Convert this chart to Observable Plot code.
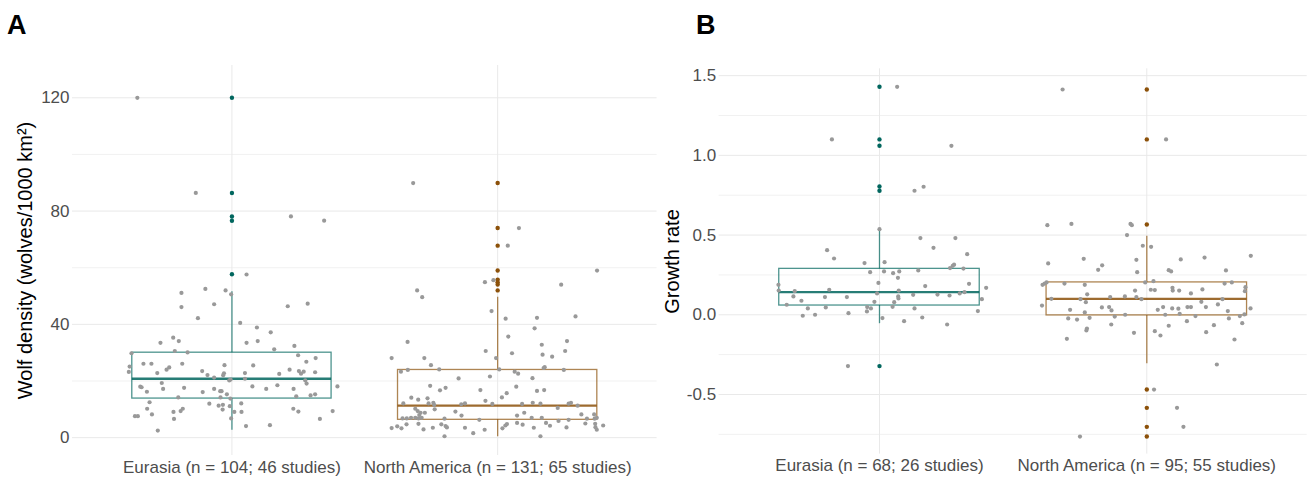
<!DOCTYPE html>
<html><head><meta charset="utf-8">
<script src="https://cdn.jsdelivr.net/npm/d3@7"></script>
<script src="https://cdn.jsdelivr.net/npm/@observablehq/plot@0.6"></script>
<style>
body{margin:0;background:#fff;}
#wrap{position:relative;width:1311px;height:478px;overflow:hidden;font-family:"Liberation Sans",Arial,sans-serif;background:#fff;}
.tag{position:absolute;font-weight:bold;font-size:27px;line-height:27px;color:#000;}
</style></head><body><div id="wrap"></div>
<script>
// ---------- data ----------
const regions = ["Eurasia", "North America"];
const colors = ["#01665E", "#8C510A"];
const tickLabelsA = ["Eurasia (n = 104; 46 studies)", "North America (n = 131; 65 studies)"];
const tickLabelsB = ["Eurasia (n = 68; 26 studies)", "North America (n = 95; 55 studies)"];
const yTitleA = "Wolf density (wolves/1000 km²)";
const yTitleB = "Growth rate";
const yTicksA = [0, 40, 80, 120];
const yMinorA = [20, 60, 100];
const yTicksB = [-0.5, 0, 0.5, 1.0, 1.5];
const yMinorB = [-0.75, -0.25, 0.25, 0.75, 1.25];

// box stats: [lower whisker, q1, median, q3, upper whisker]
const boxA_eu = [2.6, 13.8, 20.8, 30.0, 51.5];
const boxA_na = [0.3, 6.3, 11.3, 23.9, 49.6];
const boxB_eu = [-0.056, 0.058, 0.142, 0.288, 0.537];
const boxB_na = [-0.308, -0.004, 0.1, 0.203, 0.493];

// outliers (drawn at the category centre)
const outA_eu = [120, 86.4, 78.1, 76.6, 57.7];
const outA_na = [89.9, 74.0, 67.8, 59.0, 55.8, 54.9, 54.1, 52.0];
const outB_eu = [1.43, 1.10, 1.06, 0.805, 0.778, -0.322];
const outB_na = [1.413, 1.10, 0.566, -0.469, -0.584, -0.703, -0.764];

// jittered observations: [horizontal jitter (category units), value]
const jitA_eu = [[-0.356,120],[-0.136,86.4],[0.222,78.1],[0.347,76.6],
[0.055,57.6],[-0.19,51.1],[-0.10,52.5],[-0.024,52.0],[-0.003,50.6],[-0.19,46.1],[-0.067,47.1],[0.21,46.4],[0.285,47.3],[-0.128,42.2],[0.031,40.5],[0.094,38.9],[0.146,37.2],[0.097,34.1],[0.055,33.5],[-0.221,35.3],[-0.20,34.1],[-0.269,33.5],[0.235,32.4],[0.159,31.2],[-0.215,30.6],[-0.167,30.1],[-0.378,29.8],[0.249,29.1],[0.315,28.1],[0.28,26.8],[-0.333,26.1],[-0.303,26.1],[-0.187,26.1],[-0.385,25.1],[-0.236,24.8],[-0.246,24.0],[-0.028,25.6],[0.08,25.5],[-0.388,23.2],[-0.281,22.8],[-0.112,23.5],[-0.092,22.1],[-0.033,22.0],[-0.03,22.7],[0.049,22.8],[0.178,22.5],[0.217,24.0],[0.252,23.5],[0.27,23.3],[0.313,23.1],[0.397,18.1],[0.276,20.2],[0.281,19.1],[-0.01,20.2],[-0.067,21.2],[0.049,20.8],[-0.264,19.3],[-0.345,18.0],[-0.34,17.8],[-0.259,17.2],[-0.18,17.6],[0.077,18.1],[0.129,17.2],[0.171,18.5],[0.232,17.2],[-0.32,16.2],[-0.11,16.1],[-0.067,17.2],[-0.044,16.4],[-0.039,16.4],[-0.202,14.2],[-0.043,14.2],[-0.006,13.8],[0.242,14.6],[0.296,14.9],[0.313,15.3],[-0.085,12.0],[-0.05,11.3],[-0.034,11.6],[-0.008,11.1],[0.035,12.1],[-0.31,12.5],[-0.319,10.2],[-0.185,10.2],[-0.193,9.4],[-0.22,9.1],[-0.301,8.2],[-0.035,9.9],[0.231,10.2],[0.25,9.2],[0.379,9.4],[0.009,9.1],[0.036,9.1],[-0.365,7.6],[-0.354,7.6],[-0.218,6.6],[-0.003,6.8],[0.331,6.6],[0.053,4.1],[0.143,4.4],[-0.279,2.5],[-0.005,20.5],[-0.019,15.3],[0.26,22.6]];

const jitA_na = [[-0.318,89.9],[0.08,74.0],[0.038,67.8],[0.374,59.0],[-0.048,54.9],[-0.016,55.6],[0.239,54.0],[-0.303,52.0],[-0.284,49.6],[-0.023,44.7],[0.03,42.0],[0.148,42.3],[0.293,42.8],[0.139,38.6],
[0.04,35.7],[-0.339,33.8],[0.166,32.8],[0.261,34.1],[0.254,30.6],[0.169,29.3],[0.205,28.6],[0.054,29.8],[-0.045,30.6],[-0.399,28.1],[-0.276,28.1],[-0.006,28.1],[-0.251,25.6],[0.177,24.9],[0.173,24.6],[0.249,23.9],[-0.364,23.3],[-0.338,23.9],[-0.22,24.1],[0.006,24.1],[0.064,23.3],[0.077,22.6],[-0.029,21.6],[-0.147,20.9],[0.131,21.0],[-0.254,18.3],[-0.196,17.6],[-0.217,16.7],[-0.065,16.8],[0.07,18.0],[0.148,16.5],[0.175,16.8],[0.034,15.7],[0.016,14.2],[-0.325,14.1],[-0.299,13.4],[-0.264,13.9],[-0.046,13.0],[-0.355,12.1],[-0.26,12.1],[-0.242,12.3],[-0.239,11.6],[-0.123,12.1],[-0.137,11.8],[-0.02,11.9],[0.092,11.9],[0.132,12.3],[0.161,12.0],[0.226,10.5],[0.267,12.0],[0.276,12.3],[0.301,11.3],[-0.31,10.2],[-0.301,9.4],[-0.29,8.8],[-0.295,8.0],[-0.274,8.8],[-0.237,10.0],[-0.159,9.2],[-0.136,7.8],[0.1,8.8],[0.073,7.8],[0.315,8.2],[0.363,8.2],[-0.358,6.8],[-0.342,6.8],[-0.326,7.0],[-0.31,7.0],[-0.298,6.8],[-0.286,7.0],[-0.2,6.7],[-0.069,6.3],[0.128,7.0],[0.166,7.0],[0.229,5.9],[0.267,6.3],[0.336,6.7],[0.365,6.7],[0.373,7.0],[-0.399,3.4],[-0.378,4.0],[-0.362,3.3],[-0.343,4.7],[-0.298,4.9],[-0.212,4.7],[-0.196,4.1],[-0.191,3.6],[-0.279,2.9],[-0.244,3.5],[-0.123,3.5],[-0.049,2.8],[-0.092,1.6],[-0.2,0.5],[0.018,3.3],[0.029,4.3],[0.035,4.8],[0.073,5.2],[0.094,4.6],[0.136,3.5],[0.182,5.2],[0.197,4.2],[0.259,3.6],[0.33,5.0],[0.367,4.9],[0.368,3.7],[0.373,2.8],[0.397,4.3],[0.161,0.5]];

const jitB_eu = [[0.066,1.43],[-0.178,1.10],[0.269,1.06],[0.165,0.803],[0.131,0.778],[-0.118,-0.322],[0.0,0.537],
[0.153,0.481],[0.284,0.481],[0.202,0.42],[0.328,0.38],[-0.196,0.405],[-0.17,0.353],[-0.056,0.324],[0.019,0.33],[-0.035,0.267],[0.017,0.272],[0.051,0.261],[0.074,0.272],[0.069,0.232],[0.145,0.278],[0.264,0.293],[0.274,0.307],[0.279,0.314],[0.314,0.29],[-0.004,0.2],[-0.378,0.188],[-0.377,0.152],[0.335,0.194],[0.171,0.18],[0.399,0.169],[-0.317,0.148],[-0.188,0.157],[-0.009,0.134],[0.072,0.152],[-0.322,0.115],[-0.204,0.111],[-0.122,0.111],[0.07,0.115],[0.071,0.102],[0.126,0.125],[0.217,0.127],[0.262,0.121],[0.3,0.134],[0.318,0.142],[-0.292,0.088],[-0.019,0.081],[0.055,0.079],[0.383,0.098],[-0.347,0.063],[-0.268,0.04],[-0.201,0.046],[-0.046,0.048],[-0.032,0.04],[-0.047,0.021],[0.049,0.05],[0.131,0.04],[-0.116,0.01],[0.368,0.023],[-0.287,-0.006],[-0.241,0.0],[0.011,-0.021],[0.092,-0.04],[0.16,-0.017],[0.253,-0.061]];

const jitB_na = [[-0.315,1.413],[0.072,1.10],
[-0.299,-0.151],[-0.048,-0.113],[0.03,-0.103],[0.051,-0.13],[0.222,-0.109],[0.328,-0.155],[0.262,-0.312],[0.027,-0.469],[0.113,-0.584],[0.137,-0.703],[-0.25,-0.764],[-0.226,-0.098],
[-0.372,0.562],[-0.282,0.57],[-0.061,0.57],[-0.056,0.562],[-0.074,0.5],[-0.015,0.433],[0.016,0.426],[-0.369,0.322],[-0.236,0.351],[-0.182,0.282],[-0.167,0.31],[-0.039,0.345],[-0.036,0.267],[0.127,0.347],[0.216,0.359],[0.296,0.278],[0.389,0.37],[0.082,0.28],[0.091,0.272],[-0.39,0.188],[-0.382,0.196],[-0.375,0.203],[-0.308,0.196],[-0.232,0.188],[-0.006,0.203],[0.025,0.211],[-0.044,0.152],[0.015,0.157],[0.03,0.155],[0.096,0.169],[0.097,0.152],[0.121,0.152],[0.165,0.134],[0.208,0.159],[0.291,0.196],[0.318,0.203],[0.369,0.173],[0.367,0.148],[-0.223,0.128],[-0.228,0.079],[-0.357,0.1],[-0.248,0.098],[-0.137,0.111],[-0.082,0.115],[-0.039,0.111],[-0.02,0.098],[0.204,0.081],[0.283,0.098],[-0.392,0.058],[-0.287,0.031],[-0.232,0.015],[-0.168,0.046],[-0.141,0.048],[-0.132,0.027],[0.061,0.048],[0.095,0.04],[0.118,0.038],[0.152,0.048],[0.165,0.048],[0.221,0.048],[0.266,0.065],[0.388,0.04],[0.041,0.031],[0.123,0.006],[-0.081,0.0],[-0.12,-0.011],[0.069,0.0],[0.182,-0.008],[0.303,0.023],[0.348,-0.008],[0.365,0.002],[-0.294,-0.023],[-0.261,-0.03],[-0.214,-0.019],[0.307,-0.023],[0.357,-0.053],[-0.133,-0.061],[0.15,-0.04],[0.251,-0.065],[-0.224,-0.086],[0.082,-0.069]];

// ---------- drawing ----------
const FONT = "'Liberation Sans', Arial, Helvetica, sans-serif";
const BOX_HALF = 0.375;

function panel(o) {
  const boxRows = o.boxes.map((b, i) => ({x: i + 1, lo: b[0], q1: b[1], med: b[2], q3: b[3], hi: b[4], c: colors[i]}));
  const outRows = o.outliers.flatMap((arr, i) => arr.map(v => ({x: i + 1, v, c: colors[i]})));
  const jitRows = o.jitter.flatMap((arr, i) => arr.map(([dx, v]) => ({x: i + 1 + dx, v})));
  return Plot.plot({
    width: o.width, height: 478,
    marginLeft: o.marginLeft, marginRight: o.marginRight,
    marginTop: o.marginTop, marginBottom: o.marginBottom,
    style: {background: "transparent", fontFamily: FONT},
    x: {type: "linear", domain: [0.4, 2.6]},
    y: {domain: o.yDomain},
    color: {type: "identity"},
    marks: [
      Plot.ruleY(o.yMinor, {stroke: "#f1f1f1", strokeWidth: 1}),
      Plot.ruleY(o.yTicks, {stroke: "#e9e9e9", strokeWidth: 1}),
      Plot.ruleX([1, 2], {stroke: "#e9e9e9", strokeWidth: 1}),
      Plot.axisX([1, 2], {tickSize: 0, tickPadding: 5, tickFormat: d => o.tickLabels[d - 1], fontSize: 17, fill: "#4d4d4d", label: null}),
      Plot.axisY(o.yTicks, {tickSize: 0, tickPadding: 3, tickFormat: o.yFmt, fontSize: 17, fill: "#4d4d4d", label: null}),
      Plot.ruleX(boxRows, {x: "x", y1: "lo", y2: "q1", stroke: "c", strokeOpacity: 0.7, strokeWidth: 1.3}),
      Plot.ruleX(boxRows, {x: "x", y1: "q3", y2: "hi", stroke: "c", strokeOpacity: 0.7, strokeWidth: 1.3}),
      Plot.rect(boxRows, {x1: d => d.x - BOX_HALF, x2: d => d.x + BOX_HALF, y1: "q1", y2: "q3", fill: "none", stroke: "c", strokeOpacity: 0.7, strokeWidth: 1.3}),
      Plot.ruleY(boxRows, {y: "med", x1: d => d.x - BOX_HALF, x2: d => d.x + BOX_HALF, stroke: "c", strokeOpacity: 0.85, strokeWidth: 2.4}),
      Plot.dot(outRows, {x: "x", y: "v", fill: "c", r: 2.2}),
      Plot.dot(jitRows, {x: "x", y: "v", fill: "#999999", r: 2.1}),
      Plot.text([o.yTitle], {frameAnchor: "left", textAnchor: "middle", lineAnchor: "middle", dx: o.titleDx, rotate: -90, fontSize: 20, fill: "#000"})
    ]
  });
}

const wrap = document.getElementById("wrap");

const chartA = panel({
  width: 660, marginLeft: 72, marginRight: 3.4, marginTop: 65, marginBottom: 23,
  yDomain: [-6.3, 131.4], yTicks: yTicksA, yMinor: yMinorA, yFmt: d => String(d),
  tickLabels: tickLabelsA, boxes: [boxA_eu, boxA_na], outliers: [outA_eu, outA_na],
  jitter: [jitA_eu, jitA_na], yTitle: yTitleA, titleDx: -47
});
chartA.style.position = "absolute"; chartA.style.left = "0px"; chartA.style.top = "0px";
wrap.appendChild(chartA);

const chartB = panel({
  width: 661, marginLeft: 68.6, marginRight: 4.3, marginTop: 68.3, marginBottom: 24.4,
  yDomain: [-0.874, 1.543], yTicks: yTicksB, yMinor: yMinorB, yFmt: d => d.toFixed(1),
  tickLabels: tickLabelsB, boxes: [boxB_eu, boxB_na], outliers: [outB_eu, outB_na],
  jitter: [jitB_eu, jitB_na], yTitle: yTitleB, titleDx: -46.6
});
chartB.style.position = "absolute"; chartB.style.left = "650px"; chartB.style.top = "0px";
wrap.appendChild(chartB);

for (const [t, left] of [["A", 7], ["B", 696]]) {
  const d = document.createElement("div");
  d.className = "tag"; d.textContent = t;
  d.style.left = left + "px"; d.style.top = "12px";
  wrap.appendChild(d);
}
</script></body></html>
